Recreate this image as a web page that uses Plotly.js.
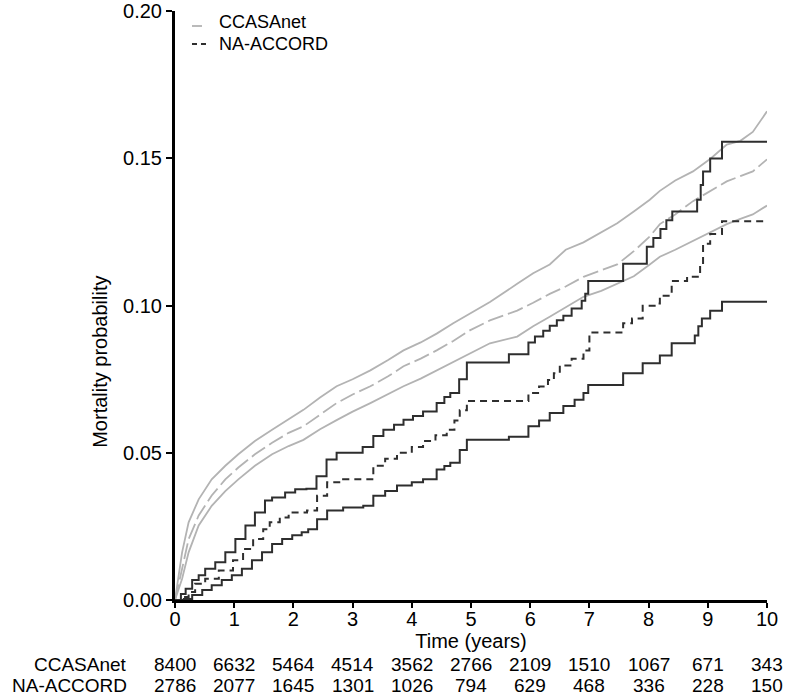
<!DOCTYPE html>
<html><head><meta charset="utf-8">
<script src="https://cdn.plot.ly/plotly-3.0.1.min.js"></script>
<style>html,body{margin:0;padding:0;background:#fff}</style>
</head><body><div id="chart" style="width:785px;height:697px"></div>
<script>
// CCASAnet cumulative mortality (estimate and 95% CI)
const ccTime = [0,0.05,0.12,0.23,0.4,0.62,0.85,1.07,1.35,1.64,1.92,2.17,2.45,2.73,3.0,3.3,3.6,3.86,4.15,4.42,4.7,4.98,5.32,5.78,6.05,6.33,6.6,6.9,7.2,7.47,7.75,8.02,8.19,8.45,8.75,9.05,9.32,9.55,9.76,10.0];
const ccUpper = [0,0.007,0.0162,0.0264,0.0342,0.041,0.0456,0.0495,0.054,0.0578,0.0613,0.0646,0.0688,0.0726,0.075,0.078,0.0815,0.0848,0.0875,0.0905,0.094,0.0973,0.1012,0.1074,0.111,0.114,0.119,0.1215,0.125,0.128,0.132,0.136,0.139,0.1425,0.1456,0.150,0.1547,0.156,0.159,0.166];
const ccEst = [0,0.004,0.0106,0.0207,0.0287,0.0355,0.041,0.045,0.0495,0.0534,0.0568,0.059,0.063,0.0669,0.0698,0.0726,0.076,0.0794,0.082,0.0848,0.088,0.0916,0.095,0.0983,0.101,0.104,0.1065,0.1098,0.112,0.114,0.1185,0.1235,0.1277,0.131,0.1355,0.139,0.1422,0.144,0.1456,0.1497];
const ccLower = [0,0.003,0.0072,0.0162,0.0253,0.032,0.037,0.041,0.0456,0.0495,0.0523,0.0544,0.058,0.0611,0.064,0.0669,0.070,0.0726,0.0752,0.078,0.081,0.0838,0.0872,0.0895,0.093,0.0962,0.0995,0.103,0.105,0.1074,0.110,0.114,0.1166,0.119,0.122,0.125,0.1277,0.1295,0.131,0.134];

// NA-ACCORD cumulative mortality (step functions)
const naUpperTime = [0,0.1,0.18,0.29,0.4,0.51,0.68,0.85,1.02,1.19,1.35,1.52,1.64,1.86,2.03,2.22,2.39,2.56,2.73,3.17,3.35,3.52,3.7,3.86,4.02,4.19,4.42,4.55,4.65,4.8,4.93,5.64,5.97,6.08,6.22,6.33,6.45,6.56,6.7,6.87,6.93,6.98,7.57,7.97,8.08,8.2,8.3,8.4,8.82,8.88,8.92,9.04,9.24,10];
const naUpper = [0,0.002,0.0038,0.0068,0.0084,0.0106,0.0128,0.0162,0.0207,0.0253,0.0297,0.0338,0.0348,0.0365,0.0376,0.0378,0.042,0.0477,0.050,0.052,0.0557,0.0578,0.0595,0.0612,0.0625,0.064,0.0669,0.069,0.0703,0.075,0.0807,0.0835,0.0875,0.0895,0.0915,0.0932,0.095,0.0966,0.099,0.1017,0.104,0.1084,0.1142,0.120,0.123,0.126,0.129,0.132,0.136,0.141,0.1456,0.150,0.1557,0.1557];
const naEstTime = [0,0.15,0.23,0.34,0.51,0.74,0.98,1.15,1.32,1.49,1.6,1.77,1.92,2.23,2.4,2.57,2.84,3.35,3.55,3.75,4.0,4.19,4.4,4.59,4.72,4.81,4.93,5.97,6.15,6.3,6.4,6.5,6.7,6.9,7.0,7.57,7.72,7.9,8.14,8.19,8.39,8.65,8.87,8.92,9.04,9.24,10];
const naEst = [0,0.001,0.0027,0.0055,0.0072,0.010,0.0135,0.0173,0.0207,0.024,0.0264,0.028,0.0297,0.0304,0.0354,0.040,0.041,0.0456,0.048,0.050,0.052,0.054,0.056,0.0578,0.061,0.0645,0.0676,0.0703,0.0725,0.0747,0.077,0.0797,0.082,0.0848,0.0909,0.094,0.0956,0.100,0.1007,0.1034,0.1084,0.1098,0.1135,0.121,0.1243,0.1287,0.1287];
const naLowerTime = [0,0.15,0.29,0.46,0.62,0.79,0.96,1.13,1.3,1.47,1.64,1.81,1.98,2.14,2.25,2.4,2.57,2.84,3.18,3.35,3.55,3.75,4.0,4.19,4.42,4.55,4.65,4.81,4.93,5.64,5.97,6.15,6.33,6.56,6.75,6.9,6.98,7.57,7.9,8.19,8.39,8.78,8.84,8.9,9.04,9.24,10];
const naLower = [0,0.0003,0.0017,0.0034,0.005,0.0068,0.0084,0.0106,0.0135,0.0162,0.019,0.0207,0.022,0.023,0.024,0.0274,0.0304,0.0314,0.032,0.0354,0.037,0.0389,0.040,0.041,0.0443,0.0455,0.0466,0.051,0.0544,0.0555,0.059,0.061,0.0635,0.0659,0.068,0.0703,0.073,0.077,0.0804,0.0831,0.0872,0.0899,0.093,0.0956,0.0983,0.1013,0.1013];

// Number at risk table
const riskTimes = [0,1,2,3,4,5,6,7,8,9,10];
const ccRisk = [8400,6632,5464,4514,3562,2766,2109,1510,1067,671,343];
const naRisk = [2786,2077,1645,1301,1026,794,629,468,336,228,150];
const groupNames = ["CCASAnet","NA-ACCORD"];
const yTicks = [0,0.05,0.1,0.15,0.2];

const FONT = '"Liberation Sans", Arial, Helvetica, sans-serif';
const GRAY = '#b3b3b3';
const DARK = '#2e2e2e';

const traces = [
  {x: ccTime, y: ccUpper, mode:'lines', line:{color:GRAY, width:1.8, shape:'linear'}, name:'CCASAnet upper', showlegend:false},
  {x: ccTime, y: ccEst, mode:'lines', line:{color:GRAY, width:1.8, dash:'16px,5px', shape:'linear'}, name:'CCASAnet', showlegend:false},
  {x: ccTime, y: ccLower, mode:'lines', line:{color:GRAY, width:1.8, shape:'linear'}, name:'CCASAnet lower', showlegend:false},
  {x: naUpperTime, y: naUpper, mode:'lines', line:{color:DARK, width:2, shape:'hv'}, name:'NA-ACCORD upper', showlegend:false},
  {x: naEstTime, y: naEst, mode:'lines', line:{color:DARK, width:2, dash:'7px,5px', shape:'hv'}, name:'NA-ACCORD', showlegend:false},
  {x: naLowerTime, y: naLower, mode:'lines', line:{color:DARK, width:2, shape:'hv'}, name:'NA-ACCORD lower', showlegend:false}
];

// plot area: top 11px, bottom 97px -> height 589px
const PH = 589;
const py = (pix) => (608 - pix) / PH; // convert page y to paper fraction (plot bottom at y=600... see below)

const annotations = [];
const rowY = [(600 - 664) / PH, (600 - 685) / PH];
[ccRisk, naRisk].forEach((arr, r) => {
  arr.forEach((v, i) => annotations.push({
    x: riskTimes[i], y: rowY[r], xref:'x', yref:'paper', text: String(v),
    showarrow:false, xanchor:'center', yanchor:'middle', borderpad:0, font:{family:FONT, size:19, color:'#000'}
  }));
  annotations.push({x:-0.08, y: rowY[r], xref:'paper', yref:'paper', text: groupNames[r],
    showarrow:false, xanchor:'right', yanchor:'middle', borderpad:0, font:{family:FONT, size:19, color:'#000'}});
});
// y axis title
annotations.push({x:-0.127, y:(600 - 362) / PH, xref:'paper', yref:'paper', text:'Mortality probability', textangle:-90,
  showarrow:false, xanchor:'center', yanchor:'middle', font:{family:FONT, size:20, color:'#000'}});
// legend text
annotations.push({x:0.0726, y:(600 - 22) / PH, xref:'paper', yref:'paper', text:groupNames[0], showarrow:false,
  xanchor:'left', yanchor:'middle', borderpad:0, font:{family:FONT, size:18, color:'#000'}});
annotations.push({x:0.0726, y:(600 - 44) / PH, xref:'paper', yref:'paper', text:groupNames[1], showarrow:false,
  xanchor:'left', yanchor:'middle', borderpad:0, font:{family:FONT, size:18, color:'#000'}});

const shapes = [
  {type:'line', xref:'paper', yref:'paper', x0:0.0287, x1:0.0456, y0:(600 - 26) / PH, y1:(600 - 26) / PH, line:{color:GRAY, width:1.8}},
  {type:'line', xref:'paper', yref:'paper', x0:0.0287, x1:0.0574, y0:(600 - 44) / PH, y1:(600 - 44) / PH, line:{color:DARK, width:2, dash:'5px,4px'}}
];

const layout = {
  width:785, height:697,
  margin:{l:175, r:18, t:11, b:97},
  paper_bgcolor:'#fff', plot_bgcolor:'#fff',
  showlegend:false,
  font:{family:FONT, size:20, color:'#000'},
  xaxis:{range:[0,10], tickvals:riskTimes, ticks:'outside', ticklen:5, tickwidth:2, tickcolor:'#000',
    showline:true, linewidth:3, linecolor:'#000', showgrid:false, zeroline:false, automargin:false,
    ticklabelstandoff:-6, ticklabeloverflow:'allow',
    tickfont:{family:FONT, size:20, color:'#000'},
    title:{text:'Time (years)', standoff:0, font:{family:FONT, size:20, color:'#000'}}},
  yaxis:{range:[0,0.2001], tickvals:yTicks, tickformat:'.2f', ticks:'outside', ticklen:6, tickwidth:2, tickcolor:'#000',
    showline:true, linewidth:3, linecolor:'#000', showgrid:false, zeroline:false, automargin:false,
    ticklabeloverflow:'allow',
    tickfont:{family:FONT, size:20, color:'#000'}},
  annotations: annotations,
  shapes: shapes
};

Plotly.newPlot('chart', traces, layout, {displayModeBar:false, staticPlot:true});
</script>
</body></html>
